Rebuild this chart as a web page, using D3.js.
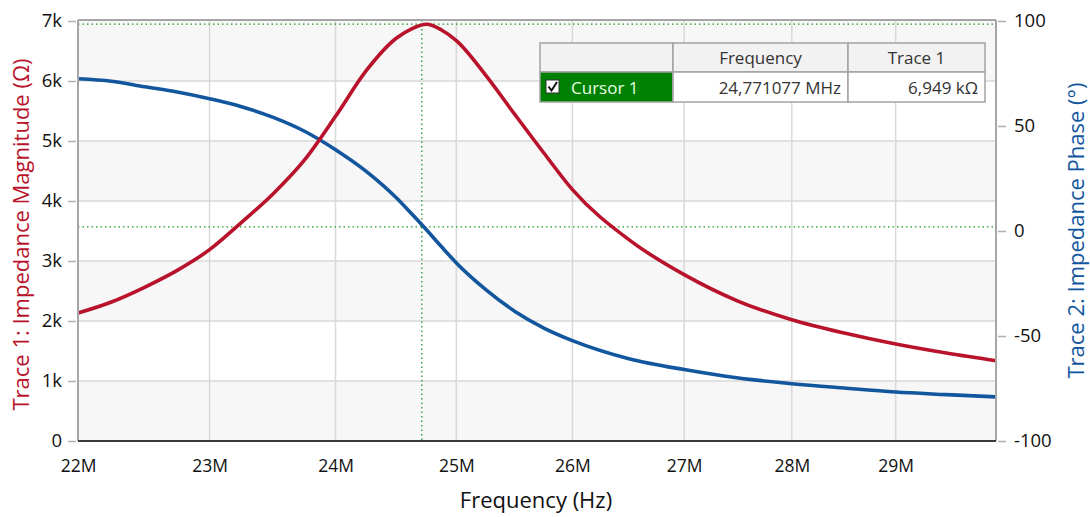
<!DOCTYPE html>
<html>
<head>
<meta charset="utf-8">
<script src="https://cdn.jsdelivr.net/npm/d3@7"></script>
<style>
  body { margin: 0; background: #fff; }
  svg text { font-family: "Open Sans", "Noto Sans", sans-serif; }
</style>
</head>
<body>
<svg id="chart" width="1090" height="517"></svg>
<script>
// frequency samples in MHz
const freqs = [22.0, 22.25, 22.5, 22.75, 23.0, 23.25, 23.5, 23.75, 24.0, 24.25, 24.5, 24.625, 24.75,
  24.875, 25.0, 25.25, 25.5, 25.75, 26.0, 26.5, 27.0, 27.5, 28.0, 28.5, 29.0, 29.5, 30.0];
// Trace 1: impedance magnitude (ohm)
const magnitude = [2133, 2317, 2562, 2844, 3189, 3644, 4122, 4685, 5411, 6172, 6717, 6870, 6945,
  6850, 6672, 6094, 5439, 4800, 4189, 3356, 2772, 2328, 2022, 1800, 1617, 1467, 1339];
// Trace 2: impedance phase (deg)
const phase = [72.5, 71.3, 68.7, 66.2, 63.0, 59.2, 54.1, 47.5, 38.7, 28.4, 15.7, 8.2, 0.5,
  -7.5, -15.2, -27.9, -38.3, -46.2, -52.2, -60.8, -66.0, -70.0, -72.7, -74.8, -76.7, -77.9, -79.0];

const xTicks = [22, 23, 24, 25, 26, 27, 28, 29];
const magTicks = [0, 1000, 2000, 3000, 4000, 5000, 6000, 7000];
const phaseTicks = [-100, -50, 0, 50, 100];

const cursorFreq = 24.71;       // where the cursor line sits on the plot
const cursorMag = 6949;
const cursorPhase = 2;
const cursorHeader = ["", "Frequency", "Trace 1"];
const cursorRow = ["Cursor 1", "24,771077 MHz", "6,949 kΩ"];

const red = "#b8132b";
const blue = "#12569e";
const green = "#1f9a1f";

const svg = d3.select("#chart");
const m = { left: 78, right: 996, top: 20, bottom: 441 };

const x = d3.scaleLog().domain([22, 30]).range([m.left, m.right]);
const yMag = d3.scaleLinear().domain([0, 7000]).range([m.bottom, 21]);
const yPh = d3.scaleLinear().domain([-100, 100]).range([m.bottom, 21]);

// alternating bands
const bands = svg.append("g");
for (let i = 0; i < 7; i++) {
  bands.append("rect")
    .attr("x", m.left).attr("width", m.right - m.left)
    .attr("y", i === 6 ? m.top : yMag((i + 1) * 1000))
    .attr("height", (i === 6 ? yMag(6000) - m.top : yMag(i * 1000) - yMag((i + 1) * 1000)))
    .attr("fill", i % 2 === 0 ? "#f7f7f7" : "#ffffff");
}

// grid
const grid = svg.append("g").attr("stroke", "#d9d9d9").attr("stroke-width", 1.5);
grid.selectAll("line.v").data(xTicks.slice(1)).enter().append("line")
  .attr("x1", d => x(d)).attr("x2", d => x(d))
  .attr("y1", m.top).attr("y2", m.bottom);
grid.selectAll("line.h").data(magTicks.slice(1, -1)).enter().append("line")
  .attr("x1", m.left).attr("x2", m.right)
  .attr("y1", d => yMag(d)).attr("y2", d => yMag(d));

// cursor lines
const cur = svg.append("g").attr("stroke", green).attr("stroke-width", 1.3)
  .attr("stroke-dasharray", "1.5,3");
cur.append("line").attr("x1", x(cursorFreq)).attr("x2", x(cursorFreq))
  .attr("y1", m.top).attr("y2", m.bottom);
cur.append("line").attr("x1", m.left).attr("x2", m.right)
  .attr("y1", yMag(cursorMag)).attr("y2", yMag(cursorMag));
cur.append("line").attr("x1", m.left).attr("x2", m.right)
  .attr("y1", yPh(cursorPhase)).attr("y2", yPh(cursorPhase));

// traces
const magLine = d3.line().curve(d3.curveMonotoneX)
  .x((d, i) => x(freqs[i])).y(d => yMag(d));
const phLine = d3.line().curve(d3.curveMonotoneX)
  .x((d, i) => x(freqs[i])).y(d => yPh(d));

svg.append("path").datum(phase).attr("d", phLine)
  .attr("fill", "none").attr("stroke", blue).attr("stroke-width", 3.6);
svg.append("path").datum(magnitude).attr("d", magLine)
  .attr("fill", "none").attr("stroke", red).attr("stroke-width", 3.6);

// frame
svg.append("line").attr("x1", m.left).attr("x2", m.right).attr("y1", m.top).attr("y2", m.top)
  .attr("stroke", "#a6a6a6").attr("stroke-width", 2);
svg.append("line").attr("x1", m.left).attr("x2", m.left).attr("y1", m.top).attr("y2", m.bottom)
  .attr("stroke", "#a6a6a6").attr("stroke-width", 2);
svg.append("line").attr("x1", m.right).attr("x2", m.right).attr("y1", m.top).attr("y2", m.bottom)
  .attr("stroke", "#a6a6a6").attr("stroke-width", 2);
svg.append("line").attr("x1", m.left).attr("x2", m.right).attr("y1", m.bottom).attr("y2", m.bottom)
  .attr("stroke", "#3a3a3a").attr("stroke-width", 2);

// axes
const xAxis = d3.axisBottom(x).tickValues(xTicks).tickFormat(d => d + "M").tickSize(0).tickPadding(19);
const gx = svg.append("g").attr("transform", `translate(0,${m.bottom})`).call(xAxis);
gx.select(".domain").remove();
gx.selectAll("text").attr("font-size", 17.5).attr("fill", "#111");

const yLeft = d3.axisLeft(yMag).tickValues(magTicks)
  .tickFormat(d => d === 0 ? "0" : d / 1000 + "k").tickSize(8).tickPadding(6);
const gl = svg.append("g").attr("transform", `translate(${m.left - 2},0)`).call(yLeft);
gl.select(".domain").remove();
gl.selectAll("line").attr("stroke", "#b0b0b0").attr("stroke-width", 1.5);
gl.selectAll("text").attr("font-size", 18.5).attr("fill", "#111");

const yRight = d3.axisRight(yPh).tickValues(phaseTicks).tickFormat(d => String(d))
  .tickSize(8).tickPadding(8);
const gr = svg.append("g").attr("transform", `translate(${m.right + 2},0)`).call(yRight);
gr.select(".domain").remove();
gr.selectAll("line").attr("stroke", "#b0b0b0").attr("stroke-width", 1.5);
gr.selectAll("text").attr("font-size", 18.5).attr("fill", "#111");

// axis titles
svg.append("text").attr("x", (m.left + m.right) / 2 - 1).attr("y", 508)
  .attr("text-anchor", "middle").attr("font-size", 22).attr("fill", "#111")
  .text("Frequency (Hz)");
svg.append("text").attr("transform", `translate(29,${(m.top + m.bottom) / 2 + 4}) rotate(-90)`)
  .attr("text-anchor", "middle").attr("font-size", 22).attr("fill", red)
  .text("Trace 1: Impedance Magnitude (Ω)");
svg.append("text").attr("transform", `translate(1084,${(m.top + m.bottom) / 2}) rotate(-90)`)
  .attr("text-anchor", "middle").attr("font-size", 22).attr("fill", blue)
  .text("Trace 2: Impedance Phase (°)");

// cursor table
const colX = [540, 673, 848, 985];
const rowY = [43, 72, 102];
const tbl = svg.append("g");
for (let c = 0; c < 3; c++) {
  tbl.append("rect").attr("x", colX[c]).attr("y", rowY[0])
    .attr("width", colX[c + 1] - colX[c]).attr("height", rowY[1] - rowY[0])
    .attr("fill", "#f2f2f2").attr("stroke", "#a3a3a3").attr("stroke-width", 1.5);
  tbl.append("rect").attr("x", colX[c]).attr("y", rowY[1])
    .attr("width", colX[c + 1] - colX[c]).attr("height", rowY[2] - rowY[1])
    .attr("fill", c === 0 ? "#008000" : "#ffffff").attr("stroke", "#a3a3a3").attr("stroke-width", 1.5);
}
cursorHeader.forEach((t, c) => {
  tbl.append("text").attr("x", (colX[c] + colX[c + 1]) / 2).attr("y", rowY[0] + 21)
    .attr("text-anchor", "middle").attr("font-size", 17).attr("fill", "#333").text(t);
});
// checkbox
tbl.append("rect").attr("x", 546).attr("y", 80).attr("width", 13).attr("height", 13)
  .attr("fill", "#fff").attr("stroke", "#333").attr("stroke-width", 1);
tbl.append("path").attr("d", "M548.5,86.5 L551.5,90.5 L557,82")
  .attr("fill", "none").attr("stroke", "#111").attr("stroke-width", 2);
tbl.append("text").attr("x", 571).attr("y", rowY[1] + 22).attr("font-size", 17)
  .attr("fill", "#e6ffe6").text(cursorRow[0]);
tbl.append("text").attr("x", colX[2] - 7).attr("y", rowY[1] + 22).attr("text-anchor", "end")
  .attr("font-size", 17).attr("fill", "#333").text(cursorRow[1]);
tbl.append("text").attr("x", colX[3] - 7).attr("y", rowY[1] + 22).attr("text-anchor", "end")
  .attr("font-size", 17).attr("fill", "#333").text(cursorRow[2]);
</script>
</body>
</html>
